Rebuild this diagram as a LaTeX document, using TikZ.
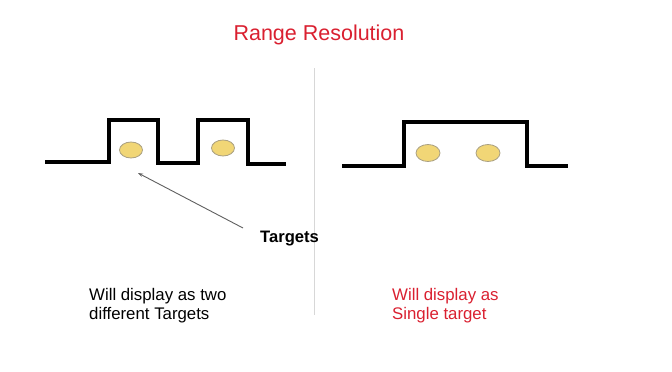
\documentclass[tikz,border=0pt]{standalone}
\usepackage{fontspec}
\setmainfont{Liberation Sans}
\usetikzlibrary{arrows.meta,shapes.geometric}
\definecolor{titlered}{RGB}{218,32,48}
\definecolor{tgtfill}{RGB}{241,214,118}
\definecolor{tgtdraw}{RGB}{170,160,130}
\definecolor{divgray}{RGB}{215,215,215}
\definecolor{arrgray}{RGB}{95,95,95}
\begin{document}
\begin{tikzpicture}[x=1pt,y=-1pt,
  pulse/.style={line width=3.2pt,line join=miter},
  target/.style={ellipse,draw=tgtdraw,fill=tgtfill,line width=0.8pt,minimum width=23pt,minimum height=16pt,inner sep=0pt},
  label/.style={anchor=base west,inner sep=0pt,font=\fontsize{16.8}{19}\selectfont,align=left}]
\useasboundingbox (0,0) rectangle (672,372);
\fill[white] (0,0) rectangle (672,372);
% title
\node[anchor=base,inner sep=0pt,text=titlered,font=\fontsize{21.5}{24}\selectfont] (title) at (319,40) {Range Resolution};
% divider
\draw[divgray,line width=0.8pt] (314,68) -- (314,315);
% left pulses
\draw[pulse] (45,162) -- (109,162) -- (109,120) -- (158,120) -- (158,163) -- (198,163) -- (198,120) -- (248,120) -- (248,164) -- (286,164);
\node[target] (t1) at (131,150) {};
\node[target] (t2) at (223,148) {};
% right pulse
\draw[pulse] (342,166) -- (404,166) -- (404,122) -- (527,122) -- (527,166) -- (568,166);
\node[target,minimum width=24pt,minimum height=17pt] (t3) at (428,153) {};
\node[target,minimum width=24pt,minimum height=17pt] (t4) at (488,153) {};
% targets label and arrow
\node[anchor=base west,inner sep=0pt,font=\bfseries\fontsize{16.6}{19}\selectfont] (tgt) at (260,242) {Targets};
\coordinate (tail) at (243,228);
\coordinate (tip) at (138,173);
\draw[arrgray,line width=0.9pt,-{Stealth[length=5pt,width=3.5pt]}] (tail) -- (tip);
% bottom texts
\node[label] (ltext) at (89,319) {Will display as two\\different Targets};
\node[label,text=titlered] (rtext) at (392,319) {Will display as\\Single target};
\end{tikzpicture}
\end{document}
